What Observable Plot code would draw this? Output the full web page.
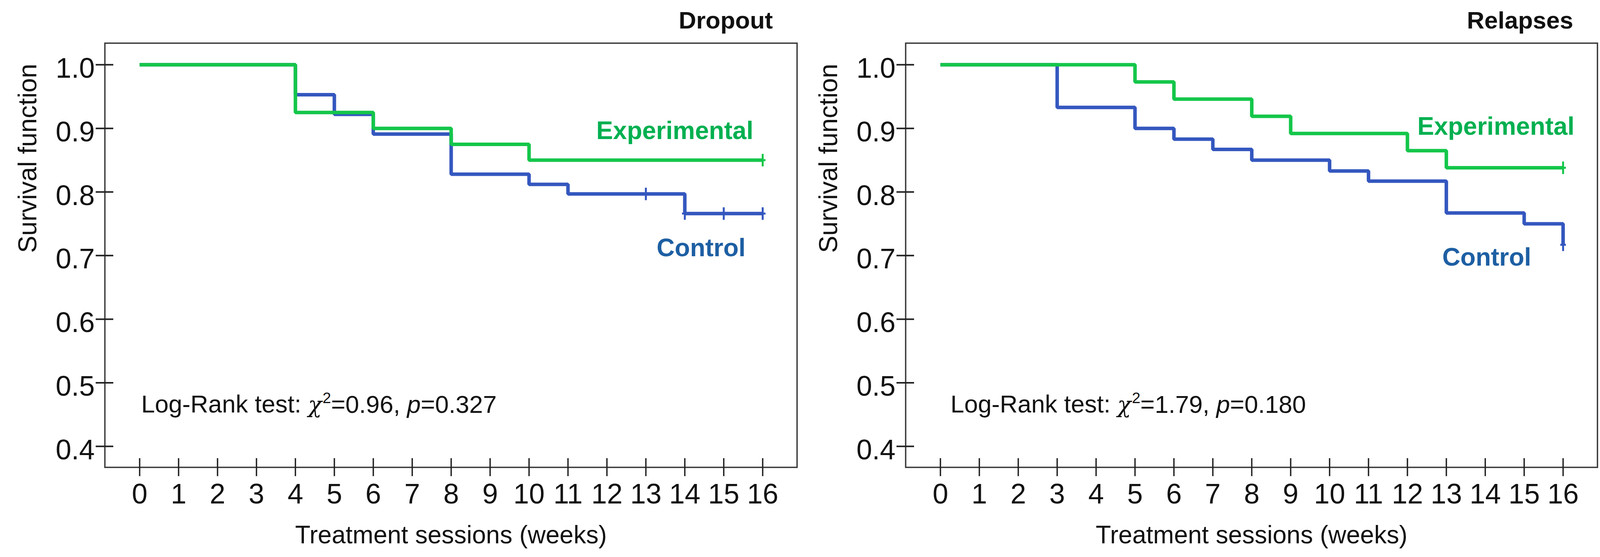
<!DOCTYPE html>
<html><head><meta charset="utf-8">
<script src="https://cdn.jsdelivr.net/npm/d3@7"></script>
<script src="https://cdn.jsdelivr.net/npm/@observablehq/plot@0.6"></script>
<style>
html,body{margin:0;padding:0;background:#fff;}
#wrap{display:flex;flex-direction:row;width:4117px;height:1426px;overflow:hidden;}
svg{display:block;}
</style></head><body><div id="wrap"></div>
<script>
// ---------- data ----------
const weekTicks = [0,1,2,3,4,5,6,7,8,9,10,11,12,13,14,15,16];
const survTicks = [0.4,0.5,0.6,0.7,0.8,0.9,1.0];
const panelTitles = ["Dropout", "Relapses"];
const groupNames = ["Experimental", "Control"];
const logRankChi = ["0.96", "1.79"];
const logRankP = ["0.327", "0.180"];
const xLabel = "Treatment sessions (weeks)";
const yLabel = "Survival function";

// Dropout panel
const dropoutExpWeeks = [0, 4, 6, 8, 10, 16];
const dropoutExpSurv  = [1.000, 0.925, 0.900, 0.875, 0.850, 0.850];
const dropoutExpCensWeeks = [16];
const dropoutExpCensSurv  = [0.850];
const dropoutCtlWeeks = [0, 4, 5, 6, 8, 10, 11, 14, 16];
const dropoutCtlSurv  = [1.000, 0.953, 0.922, 0.891, 0.828, 0.812, 0.797, 0.766, 0.766];
const dropoutCtlCensWeeks = [13, 14, 15, 16];
const dropoutCtlCensSurv  = [0.797, 0.766, 0.766, 0.766];

// Relapses panel
const relapseExpWeeks = [0, 5, 6, 8, 9, 12, 13, 16];
const relapseExpSurv  = [1.000, 0.973, 0.946, 0.919, 0.892, 0.865, 0.838, 0.838];
const relapseExpCensWeeks = [16];
const relapseExpCensSurv  = [0.838];
const relapseCtlWeeks = [0, 3, 5, 6, 7, 8, 10, 11, 13, 15, 16];
const relapseCtlSurv  = [1.000, 0.933, 0.900, 0.883, 0.867, 0.850, 0.833, 0.817, 0.767, 0.750, 0.717];
const relapseCtlCensWeeks = [16];
const relapseCtlCensSurv  = [0.717];

// ---------- helpers ----------
const rows = (w, s) => w.map((d, i) => ({week: d, surv: s[i]}));
const lineColor = {Experimental: "#14c64a", Control: "#3457bf"};
const labelColor = {Experimental: "#00b050", Control: "#1d5fa3"};
const censorSymbol = {
  draw(ctx, size) {
    const r = Math.sqrt(size / Math.PI);
    ctx.moveTo(0, -r); ctx.lineTo(0, r);
    ctx.moveTo(-r * 0.45, 0); ctx.lineTo(r * 0.45, 0);
  }
};
const FONT = "'Liberation Sans', Arial, Helvetica, sans-serif";

function panel(cfg) {
  const series = [
    {name: "Control", line: rows(cfg.ctlW, cfg.ctlS), cens: rows(cfg.ctlCW, cfg.ctlCS)},
    {name: "Experimental", line: rows(cfg.expW, cfg.expS), cens: rows(cfg.expCW, cfg.expCS)}
  ];
  const marks = [
    Plot.frame({stroke: "#3a3a3a", strokeWidth: 3.5}),
    Plot.axisX({ticks: weekTicks, tickSize: 46, dy: -23, tickFormat: () => "", stroke: "#222", strokeWidth: 3.5, label: null}),
    Plot.axisX({ticks: weekTicks, tickSize: 0, tickPadding: 41, fontSize: 72, tickFormat: d => String(d), label: null, fill: "#111"}),
    Plot.axisY({ticks: survTicks, tickSize: 45, dx: 22, tickFormat: () => "", stroke: "#222", strokeWidth: 4, label: null}),
    Plot.axisY({ticks: survTicks, tickSize: 0, tickPadding: 26, dy: 10, fontSize: 72, tickFormat: d3.format(".1f"), label: null, fill: "#111"})
  ];
  for (const s of series) {
    marks.push(Plot.line(s.line, {x: "week", y: "surv", curve: "step-after", stroke: lineColor[s.name], strokeWidth: 9, strokeLinejoin: "miter", strokeLinecap: "butt"}));
    marks.push(Plot.dot(s.cens, {x: "week", y: "surv", symbol: censorSymbol, r: 16, stroke: lineColor[s.name], strokeWidth: 5, fill: "none"}));
  }
  marks.push(
    Plot.text([{x: cfg.expLab[0], y: cfg.expLab[1], t: groupNames[0]}], {x: "x", y: "y", text: "t", textAnchor: "end", lineAnchor: "bottom", fontSize: 64, fontWeight: "bold", fill: labelColor.Experimental}),
    Plot.text([{x: cfg.ctlLab[0], y: cfg.ctlLab[1], t: groupNames[1]}], {x: "x", y: "y", text: "t", textAnchor: "end", lineAnchor: "bottom", fontSize: 64, fontWeight: "bold", fill: labelColor.Control}),
    Plot.text([{x: cfg.lrLab[0], y: cfg.lrLab[1], t: `Log-Rank test: χ2=${cfg.chi}, p=${cfg.p}`}], {x: "x", y: "y", text: "t", textAnchor: "start", lineAnchor: "bottom", fontSize: 63, fill: "#111"}),
    Plot.text([cfg.title], {text: d => d, frameAnchor: "top-right", dx: -62, dy: -38, textAnchor: "end", lineAnchor: "bottom", fontSize: 62, fontWeight: "bold", fill: "#111"}),
    Plot.text([xLabel], {text: d => d, frameAnchor: "bottom", dy: 194, lineAnchor: "bottom", fontSize: 64, fill: "#111"}),
    Plot.text([yLabel], {text: d => d, frameAnchor: "left", dx: -176, dy: -6, rotate: -90, lineAnchor: "bottom", fontSize: 66, fill: "#111"})
  );
  const svg = Plot.plot({
    width: cfg.width, height: 1426,
    marginLeft: 268, marginRight: cfg.marginRight, marginTop: 110, marginBottom: 230,
    style: {fontFamily: FONT, background: "#fff", color: "#111", overflow: "visible"},
    x: {domain: [-0.893, 16.883]},
    y: {domain: [0.367, 1.034]},
    marks
  });
  // rich formatting of the log-rank annotation (italic chi and p, superscript 2)
  d3.select(svg).selectAll("text").filter(function() { return this.textContent.startsWith("Log-Rank"); }).each(function() {
    const t = d3.select(this);
    t.text(null);
    t.append("tspan").text("Log-Rank test: ");
    t.append("tspan").attr("font-style", "italic").attr("font-family", "'DejaVu Serif', serif").attr("font-size", "0.92em").text("χ");
    t.append("tspan").attr("font-size", "0.62em").attr("dy", "-0.62em").attr("dx", "0.05em").text("2");
    t.append("tspan").attr("dy", "0.385em").text(`=${cfg.chi}, `);
    t.append("tspan").attr("font-style", "italic").text("p");
    t.append("tspan").text(`=${cfg.p}`);
  });
  return svg;
}

const wrap = document.getElementById("wrap");
wrap.appendChild(panel({
  title: panelTitles[0], width: 2050, marginRight: 10,
  expW: dropoutExpWeeks, expS: dropoutExpSurv, expCW: dropoutExpCensWeeks, expCS: dropoutExpCensSurv,
  ctlW: dropoutCtlWeeks, ctlS: dropoutCtlSurv, ctlCW: dropoutCtlCensWeeks, ctlCS: dropoutCtlCensSurv,
  expLab: [15.76, 0.883], ctlLab: [15.56, 0.699], lrLab: [0.04, 0.453],
  chi: logRankChi[0], p: logRankP[0]
}));
wrap.appendChild(panel({
  title: panelTitles[1], width: 2067, marginRight: 28,
  expW: relapseExpWeeks, expS: relapseExpSurv, expCW: relapseExpCensWeeks, expCS: relapseExpCensSurv,
  ctlW: relapseCtlWeeks, ctlS: relapseCtlSurv, ctlCW: relapseCtlCensWeeks, ctlCS: relapseCtlCensSurv,
  expLab: [16.29, 0.890], ctlLab: [15.18, 0.684], lrLab: [0.26, 0.453],
  chi: logRankChi[1], p: logRankP[1]
}));
</script>
</body></html>
